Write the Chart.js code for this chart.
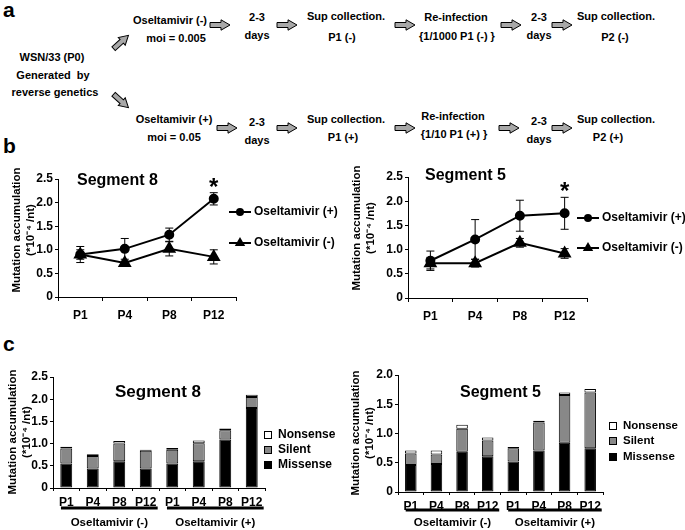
<!DOCTYPE html>
<html>
<head>
<meta charset="utf-8">
<script src="https://cdn.jsdelivr.net/npm/chart.js@4.4.0/dist/chart.umd.min.js"></script>
<style>
html, body { margin: 0; padding: 0; background: #fff; }
#page { position: relative; width: 685px; height: 530px; overflow: hidden; font-family: 'Liberation Sans', Arial, sans-serif; font-weight: bold; color: #000; }
.t { position: absolute; transform: translate(-50%, -50%); white-space: nowrap; font-size: 11px; line-height: 1; }
.lbl { position: absolute; font-size: 21px; line-height: 1; }
.ar { position: absolute; overflow: visible; }
canvas { position: absolute; }
</style>
</head>
<body>
<div id="page">
  <div class="lbl" style="left:3px;top:-1px">a</div>
  <div class="lbl" style="left:3px;top:135px">b</div>
  <div class="lbl" style="left:3px;top:333px">c</div>

  <div class="t" style="left:52px;top:57px">WSN/33 (P0)</div>
  <div class="t" style="left:53px;top:75px">Generated&nbsp; by</div>
  <div class="t" style="left:55px;top:92px">reverse genetics</div>

  <div class="t" style="left:170px;top:20px">Oseltamivir (-)</div>
  <div class="t" style="left:176px;top:38px">moi = 0.005</div>
  <div class="t" style="left:257px;top:17px">2-3</div>
  <div class="t" style="left:257px;top:35px">days</div>
  <div class="t" style="left:346px;top:16px">Sup collection.</div>
  <div class="t" style="left:342px;top:37px">P1 (-)</div>
  <div class="t" style="left:456px;top:17px">Re-infection</div>
  <div class="t" style="left:457px;top:36px">{1/1000 P1 (-) }</div>
  <div class="t" style="left:539px;top:17px">2-3</div>
  <div class="t" style="left:539px;top:35px">days</div>
  <div class="t" style="left:616px;top:16px">Sup collection.</div>
  <div class="t" style="left:615px;top:37px">P2 (-)</div>

  <div class="t" style="left:174px;top:119px">Oseltamivir (+)</div>
  <div class="t" style="left:174px;top:137px">moi = 0.05</div>
  <div class="t" style="left:257px;top:122px">2-3</div>
  <div class="t" style="left:257px;top:140px">days</div>
  <div class="t" style="left:346px;top:119px">Sup collection.</div>
  <div class="t" style="left:343px;top:137px">P1 (+)</div>
  <div class="t" style="left:453px;top:116px">Re-infection</div>
  <div class="t" style="left:454px;top:134px">{1/10 P1 (+) }</div>
  <div class="t" style="left:539px;top:121px">2-3</div>
  <div class="t" style="left:539px;top:139px">days</div>
  <div class="t" style="left:616px;top:119px">Sup collection.</div>
  <div class="t" style="left:608px;top:137px">P2 (+)</div>

  <canvas id="lineSeg8" width="340" height="195" style="left:0;top:140px"></canvas>
  <canvas id="lineSeg5" width="345" height="195" style="left:340px;top:140px"></canvas>
  <canvas id="barSeg8" width="340" height="190" style="left:0;top:340px"></canvas>
  <canvas id="barSeg5" width="345" height="190" style="left:340px;top:340px"></canvas>
</div>
<script>
// panel b: mutation accumulation per passage (*10^-4 /nt)
const passages = ['P1', 'P4', 'P8', 'P12'];
const seriesNames = ['Oseltamivir (+)', 'Oseltamivir (-)'];
const seg8Plus = [0.90, 1.02, 1.32, 2.08];
const seg8PlusErr = [0.17, 0.22, 0.14, 0.13];
const seg8Minus = [0.90, 0.72, 1.02, 0.85];
const seg8MinusErr = [0.10, 0.04, 0.15, 0.15];
const seg5Plus = [0.77, 1.21, 1.70, 1.75];
const seg5PlusErr = [0.20, 0.41, 0.32, 0.33];
const seg5Minus = [0.72, 0.72, 1.14, 0.92];
const seg5MinusErr = [0.12, 0.08, 0.09, 0.10];

// panel c: stacked by mutation type
const barLabels = ['P1', 'P4', 'P8', 'P12', 'P1', 'P4', 'P8', 'P12'];
const groupNames = ['Oseltamivir (-)', 'Oseltamivir (+)'];
const typeNames = ['Missense', 'Silent', 'Nonsense'];
const seg8Missense = [0.55, 0.44, 0.60, 0.44, 0.55, 0.60, 1.09, 1.80];
const seg8Silent   = [0.34, 0.28, 0.40, 0.40, 0.31, 0.41, 0.21, 0.25];
const seg8Nonsense = [0.04, 0.04, 0.06, 0.02, 0.04, 0.06, 0.04, 0.05];
const seg5Missense = [0.46, 0.48, 0.69, 0.61, 0.52, 0.71, 0.84, 0.75];
const seg5Silent   = [0.20, 0.16, 0.39, 0.27, 0.23, 0.48, 0.82, 0.95];
const seg5Nonsense = [0.05, 0.07, 0.07, 0.05, 0.02, 0.03, 0.04, 0.06];

const yTitle = ['Mutation accumulation', '(*10\u207B\u2074 /nt)'];
const fontFam = "'Liberation Sans', Arial, sans-serif";

Chart.defaults.font.family = fontFam;
Chart.defaults.font.weight = 'bold';
Chart.defaults.font.size = 12;
Chart.defaults.color = '#000';

// flow diagram arrows
const arrows = [
  [220, 25, 0], [287, 25, 0], [405, 25, 0], [511, 25, 0], [562, 25, 0],
  [227, 128, 0], [287, 128, 0], [405, 128, 0], [509, 128, 0], [562, 128, 0],
  [121, 42, -42], [121, 101, 42]
];
arrows.forEach(([x, y, rot]) => {
  const ns = 'http://www.w3.org/2000/svg';
  const svg = document.createElementNS(ns, 'svg');
  svg.setAttribute('class', 'ar');
  svg.setAttribute('width', 22);
  svg.setAttribute('height', 12);
  svg.style.left = (x - 11) + 'px';
  svg.style.top = (y - 6) + 'px';
  svg.style.transform = `rotate(${rot}deg)`;
  const p = document.createElementNS(ns, 'polygon');
  p.setAttribute('points', '1,3.5 12,3.5 12,0.8 21,6 12,11.2 12,8.5 1,8.5');
  p.setAttribute('fill', '#a8a8a8');
  p.setAttribute('stroke', '#000');
  p.setAttribute('stroke-width', '1');
  svg.appendChild(p);
  document.getElementById('page').appendChild(svg);
});

function drawMarker(ctx, style, r, x, y) {
  ctx.beginPath();
  if (style === 'triangle') {
    let a = 0;
    ctx.moveTo(x + Math.sin(a) * r, y - Math.cos(a) * r);
    a += Math.PI * 2 / 3;
    ctx.lineTo(x + Math.sin(a) * r, y - Math.cos(a) * r);
    a += Math.PI * 2 / 3;
    ctx.lineTo(x + Math.sin(a) * r, y - Math.cos(a) * r);
    ctx.closePath();
  } else {
    ctx.arc(x, y, r, 0, Math.PI * 2);
  }
  ctx.fill();
}

const errorBars = {
  id: 'errorBars',
  afterDatasetsDraw(chart) {
    const ctx = chart.ctx, ys = chart.scales.y;
    ctx.save();
    ctx.strokeStyle = '#000';
    ctx.lineWidth = 1;
    chart.data.datasets.forEach((ds, i) => {
      if (!ds.errors) return;
      chart.getDatasetMeta(i).data.forEach((pt, j) => {
        const v = ds.data[j], e = ds.errors[j];
        const top = ys.getPixelForValue(v + e), bot = ys.getPixelForValue(v - e);
        ctx.beginPath();
        ctx.moveTo(pt.x, top); ctx.lineTo(pt.x, bot);
        ctx.moveTo(pt.x - 4, top); ctx.lineTo(pt.x + 4, top);
        ctx.moveTo(pt.x - 4, bot); ctx.lineTo(pt.x + 4, bot);
        ctx.stroke();
      });
    });
    ctx.restore();
  }
};

const extras = {
  id: 'extras',
  afterDraw(chart, args, o) {
    const ctx = chart.ctx, area = chart.chartArea, xs = chart.scales.x, ys = chart.scales.y;
    ctx.save();
    ctx.fillStyle = '#000';
    ctx.strokeStyle = '#000';
    if (o.yTitle) {
      // rotated two-line axis title
      ctx.font = `bold 11.5px ${fontFam}`;
      ctx.textAlign = 'center';
      ctx.textBaseline = 'middle';
      yTitle.forEach((line, i) => {
        ctx.save();
        ctx.translate(o.yTitle.x[i], o.yTitle.y);
        ctx.rotate(-Math.PI / 2);
        ctx.fillText(line, 0, 0);
        ctx.restore();
      });
    }
    if (o.title) {
      ctx.font = `bold ${o.title.size}px ${fontFam}`;
      ctx.textAlign = 'left';
      ctx.textBaseline = 'middle';
      ctx.fillText(o.title.text, o.title.x, o.title.y);
    }
    if (o.star) {
      ctx.font = `bold 24px ${fontFam}`;
      ctx.textAlign = 'center';
      ctx.textBaseline = 'alphabetic';
      ctx.fillText('*', xs.getPixelForValue(o.star.index), ys.getPixelForValue(o.star.value) + 24 * 0.57);
    }
    if (o.lineLegend) {
      const L = o.lineLegend;
      chart.data.datasets.forEach((ds, i) => {
        const y = L.y[i];
        ctx.lineWidth = 2;
        ctx.beginPath(); ctx.moveTo(L.x, y); ctx.lineTo(L.x + 22, y); ctx.stroke();
        drawMarker(ctx, ds.pointStyle, ds.pointRadius, L.x + 11, y);
        ctx.font = `bold 12px ${fontFam}`;
        ctx.textAlign = 'left';
        ctx.textBaseline = 'middle';
        ctx.fillText(ds.label, L.x + 25, y);
      });
    }
    if (o.boxLegend) {
      const L = o.boxLegend;
      chart.data.datasets.slice().reverse().forEach((ds, i) => {
        const y = L.y[i];
        ctx.fillStyle = ds.backgroundColor;
        ctx.fillRect(L.x, y - 4, 8, 8);
        ctx.lineWidth = 1;
        ctx.strokeRect(L.x + 0.5, y - 3.5, 7, 7);
        ctx.fillStyle = '#000';
        ctx.font = `bold ${L.size}px ${fontFam}`;
        ctx.textAlign = 'left';
        ctx.textBaseline = 'middle';
        ctx.fillText(ds.label, L.x + 14, y);
      });
    }
    if (o.groups) {
      const w = xs.getPixelForValue(1) - xs.getPixelForValue(0);
      groupNames.forEach((name, g) => {
        const x0 = xs.getPixelForValue(g * 4) - w * 0.2;
        const x1 = xs.getPixelForValue(g * 4 + 3) + w * 0.45;
        ctx.lineWidth = 3;
        ctx.beginPath();
        ctx.moveTo(x0, area.bottom + o.groups.line);
        ctx.lineTo(x1, area.bottom + o.groups.line);
        ctx.stroke();
        ctx.font = `bold 11.5px ${fontFam}`;
        ctx.textAlign = 'center';
        ctx.textBaseline = 'middle';
        ctx.fillText(name, (x0 + x1) / 2, area.bottom + o.groups.text);
      });
    }
    ctx.restore();
  }
};

function axes(geo, max, stacked) {
  return {
    x: {
      stacked,
      offset: true,
      afterFit: s => { s.height = geo.xHeight; },
      grid: { display: true, drawOnChartArea: false, offset: true, tickLength: geo.xTick, color: '#000' },
      border: { display: true, color: '#000', width: 1 },
      ticks: { padding: geo.xPad, maxRotation: 0, autoSkip: false, font: { size: 12, weight: 'bold' } }
    },
    y: {
      stacked,
      min: 0, max,
      afterFit: s => { s.width = geo.yWidth; },
      grid: { display: true, drawOnChartArea: false, tickLength: 3, color: '#000' },
      border: { display: true, color: '#000', width: 1 },
      ticks: { stepSize: 0.5, padding: 2, font: { size: 12, weight: 'bold' }, callback: v => v === 0 ? '0' : v.toFixed(1) },
      title: { display: false }
    }
  };
}

function lineChart(id, geo, plus, plusErr, minus, minusErr, extra) {
  const line = { borderColor: '#000', backgroundColor: '#000', pointBackgroundColor: '#000', pointBorderColor: '#000', borderWidth: 2, tension: 0 };
  return new Chart(document.getElementById(id), {
    type: 'line',
    data: {
      labels: passages,
      datasets: [
        { ...line, label: seriesNames[0], data: plus, errors: plusErr, pointStyle: 'circle', pointRadius: 4 },
        { ...line, label: seriesNames[1], data: minus, errors: minusErr, pointStyle: 'triangle', pointRadius: 6 }
      ]
    },
    options: {
      responsive: false, animation: false,
      layout: { padding: geo.pad },
      plugins: { legend: { display: false }, tooltip: { enabled: false }, extras: extra },
      scales: axes(geo, 2.5, false)
    },
    plugins: [errorBars, extras]
  });
}

function barChart(id, geo, max, missense, silent, nonsense, extra) {
  const bar = { borderColor: '#000', borderWidth: 1, borderSkipped: false, barPercentage: 0.45, categoryPercentage: 1 };
  return new Chart(document.getElementById(id), {
    type: 'bar',
    data: {
      labels: barLabels,
      datasets: [
        { ...bar, label: typeNames[0], data: missense, backgroundColor: '#000' },
        { ...bar, label: typeNames[1], data: silent, backgroundColor: '#888888' },
        { ...bar, label: typeNames[2], data: nonsense, backgroundColor: '#fff' }
      ]
    },
    options: {
      responsive: false, animation: false,
      layout: { padding: geo.pad },
      plugins: { legend: { display: false }, tooltip: { enabled: false }, extras: extra },
      scales: axes(geo, max, true)
    },
    plugins: [extras]
  });
}

lineChart('lineSeg8',
  { pad: { top: 39, right: 104, left: 0, bottom: 0 }, yWidth: 58, xHeight: 38, xTick: 4, xPad: 7 },
  seg8Plus, seg8PlusErr, seg8Minus, seg8MinusErr,
  { yTitle: { x: [17, 31], y: 90 }, title: { text: 'Segment 8', x: 77, y: 41, size: 16 }, star: { index: 3, value: 2.46 }, lineLegend: { x: 229, y: [72, 103] } });

lineChart('lineSeg5',
  { pad: { top: 37, right: 98, left: 0, bottom: 0 }, yWidth: 68, xHeight: 37, xTick: 4, xPad: 7 },
  seg5Plus, seg5PlusErr, seg5Minus, seg5MinusErr,
  { yTitle: { x: [17, 31], y: 88 }, title: { text: 'Segment 5', x: 85, y: 36, size: 16 }, star: { index: 3, value: 2.33 }, lineLegend: { x: 237, y: [78, 108] } });

barChart('barSeg8',
  { pad: { top: 37, right: 75, left: 0, bottom: 0 }, yWidth: 53, xHeight: 42, xTick: 3, xPad: 4 },
  2.5, seg8Missense, seg8Silent, seg8Nonsense,
  { yTitle: { x: [13, 27], y: 92 }, title: { text: 'Segment 8', x: 115, y: 52, size: 17 }, boxLegend: { x: 264, y: [95, 110, 125], size: 12 }, groups: { line: 20, text: 35 } });

barChart('barSeg5',
  { pad: { top: 35, right: 82, left: 0, bottom: 0 }, yWidth: 58, xHeight: 38, xTick: 3, xPad: 4 },
  2.0, seg5Missense, seg5Silent, seg5Nonsense,
  { yTitle: { x: [16, 30], y: 93 }, title: { text: 'Segment 5', x: 120, y: 53, size: 16 }, boxLegend: { x: 269, y: [86, 101, 117], size: 11.5 }, groups: { line: 18, text: 31 } });
</script>
</body>
</html>
